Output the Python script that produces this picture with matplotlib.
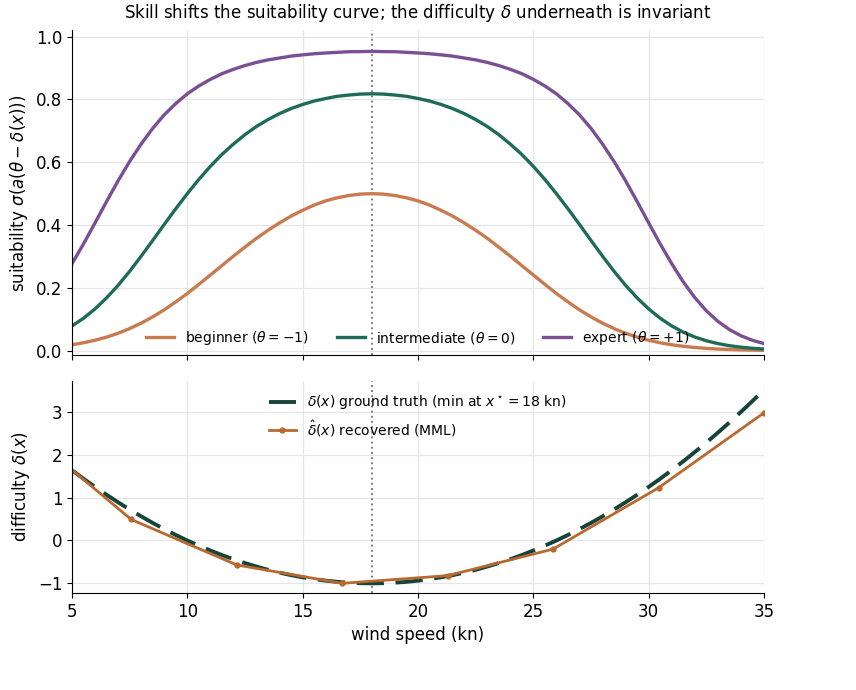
import matplotlib
matplotlib.use("Agg")
import matplotlib.pyplot as plt

# wind speed grid (kn), 0.5 kn steps
wind = [5 + 0.5 * i for i in range(61)]

# suitability curves
beginner = [0.0187, 0.0251, 0.0331, 0.0431, 0.0554, 0.0702, 0.0876, 0.1076, 0.130, 0.1554,
            0.182, 0.2111, 0.241, 0.2709, 0.301, 0.3298, 0.358, 0.3834, 0.407, 0.4287,
            0.447, 0.4636, 0.477, 0.4868, 0.494, 0.4985, 0.500,
            0.4985, 0.494, 0.4868, 0.477, 0.4636, 0.447, 0.4287, 0.407, 0.3834, 0.358,
            0.3298, 0.301, 0.2709, 0.241, 0.2111, 0.182, 0.1554, 0.130, 0.1076, 0.0876,
            0.0702, 0.0554, 0.0431, 0.0331, 0.0251, 0.0187,
            0.0138, 0.0100, 0.0072, 0.0051, 0.0036, 0.0025, 0.0017, 0.0011]
intermediate = [0.0786, 0.1032, 0.133, 0.168, 0.208, 0.2527, 0.301, 0.351, 0.402, 0.452,
                0.500, 0.5454, 0.587, 0.6248, 0.658, 0.688, 0.714, 0.736, 0.755, 0.771,
                0.784, 0.795, 0.803, 0.810, 0.814, 0.817, 0.818,
                0.817, 0.814, 0.810, 0.803, 0.795, 0.784, 0.771, 0.755, 0.736, 0.714,
                0.688, 0.658, 0.6248, 0.587, 0.5454, 0.500, 0.452, 0.402, 0.351, 0.301,
                0.2527, 0.208, 0.168, 0.133, 0.1032, 0.0786,
                0.0589, 0.0434, 0.0314, 0.0225, 0.0158, 0.0110, 0.0075, 0.0051]
expert = [0.277, 0.340, 0.407, 0.475, 0.541, 0.6025, 0.658, 0.708, 0.751, 0.787,
          0.818, 0.843, 0.864, 0.882, 0.896, 0.908, 0.918, 0.926, 0.932, 0.938,
          0.942, 0.9455, 0.948, 0.950, 0.952, 0.9523, 0.953,
          0.9523, 0.952, 0.950, 0.948, 0.9455, 0.942, 0.938, 0.932, 0.926, 0.918,
          0.908, 0.896, 0.882, 0.864, 0.843, 0.818, 0.787, 0.751, 0.708, 0.658,
          0.6025, 0.541, 0.475, 0.407, 0.340, 0.277,
          0.219, 0.169, 0.127, 0.0934, 0.0672, 0.0474, 0.0329, 0.0225]

# difficulty: ground truth and recovered bins
delta_true = [1.641, 1.441, 1.25, 1.066, 0.891, 0.723, 0.563, 0.410, 0.266, 0.129,
              0.0, -0.121, -0.234, -0.340, -0.438, -0.527, -0.609, -0.684, -0.75, -0.809,
              -0.859, -0.902, -0.938, -0.965, -0.984, -0.996, -1.0,
              -0.996, -0.984, -0.965, -0.938, -0.902, -0.859, -0.809, -0.75, -0.684, -0.609,
              -0.527, -0.438, -0.340, -0.234, -0.121, 0.0, 0.129, 0.266, 0.410, 0.563,
              0.723, 0.891, 1.066, 1.25, 1.441, 1.641,
              1.848, 2.063, 2.285, 2.516, 2.754, 3.0, 3.254, 3.516]
bins_x = [3.0, 7.57, 12.14, 16.71, 21.29, 25.86, 30.43, 35.0]
delta_hat = [2.55, 0.49, -0.57, -1.0, -0.82, -0.2, 1.23, 2.98]

x_star = 18

c_beg = "#C97B50"
c_int = "#1F6B5A"
c_exp = "#7A4F93"
c_true = "#17443A"
c_hat = "#B8692F"

plt.rcParams["font.size"] = 12

fig = plt.figure(figsize=(8.56, 6.9), dpi=100)
ax1 = fig.add_axes([0.0841, 0.485, 0.8084, 0.471])
ax2 = fig.add_axes([0.0841, 0.1406, 0.8084, 0.3074], sharex=ax1)

for ax in (ax1, ax2):
    ax.spines["top"].set_visible(False)
    ax.spines["right"].set_visible(False)
    ax.grid(True, color="#e6e6e6", linewidth=0.9)
    ax.set_axisbelow(True)
    ax.axvline(x_star, color="gray", linestyle=":", linewidth=1.4, zorder=1)

# Верхний график - кривые пригодности
ax1.plot(wind, beginner, color=c_beg, lw=2.4, label=r"beginner ($\theta=-1$)")
ax1.plot(wind, intermediate, color=c_int, lw=2.4, label=r"intermediate ($\theta=0$)")
ax1.plot(wind, expert, color=c_exp, lw=2.4, label=r"expert ($\theta=+1$)")
ax1.set_ylim(-0.015, 1.02)
ax1.set_yticks([0.0, 0.2, 0.4, 0.6, 0.8, 1.0])
ax1.set_ylabel(r"suitability $\sigma(a(\theta-\delta(x)))$")
ax1.set_title(r"Skill shifts the suitability curve; the difficulty $\delta$ underneath is invariant",
              fontsize=12, pad=9)
ax1.legend(loc="lower center", ncol=3, frameon=False, fontsize=10,
           handlelength=2.0, columnspacing=2.0, borderaxespad=0.2)
ax1.tick_params(labelbottom=False)

# Нижний график - сложность
ax2.plot(wind, delta_true, color=c_true, lw=2.8, linestyle=(0, (7, 3)),
         label=r"$\delta(x)$ ground truth (min at $x^\star=18$ kn)")
ax2.plot(bins_x, delta_hat, color=c_hat, lw=2.0, marker="o", markersize=3.5,
         label=r"$\hat{\delta}(x)$ recovered (MML)")
ax2.set_xlim(5, 35)
ax2.set_ylim(-1.225, 3.725)
ax2.set_yticks([-1, 0, 1, 2, 3])
ax2.set_ylabel(r"difficulty $\delta(x)$")
ax2.set_xlabel("wind speed (kn)")
ax2.legend(loc="upper center", frameon=False, fontsize=10, handlelength=2.0)

plt.savefig("out.png", dpi=100)
